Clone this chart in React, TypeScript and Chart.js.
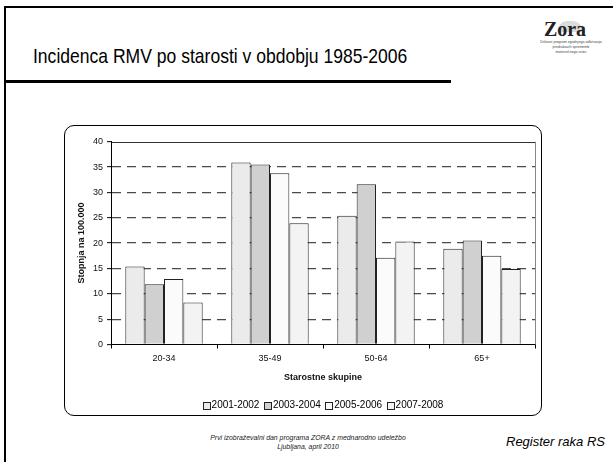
import React, { useEffect, useRef } from 'react';
import { Chart, registerables } from 'chart.js';

Chart.register(...registerables);

const categories = ['20-34', '35-49', '50-64', '65+'];
const seriesLabels = ['2001-2002', '2003-2004', '2005-2006', '2007-2008'];
const values2001 = [15.4, 35.9, 25.4, 18.9];
const values2003 = [11.9, 35.5, 31.6, 20.5];
const values2005 = [12.9, 33.8, 17.1, 17.5];
const values2007 = [8.3, 23.9, 20.3, 14.9];
const seriesColors = ['#EBEBEB', '#D0D0D0', '#FBFBFB', '#F3F3F3'];
const yMin = 0;
const yMax = 40;
const yStep = 5;

const slideTitle = 'Incidenca RMV po starosti v obdobju 1985-2006';
const xTitle = 'Starostne skupine';
const yTitle = 'Stopnja na 100.000';
const footerLine1 = 'Prvi izobraževalni dan programa ZORA z mednarodno udeležbo';
const footerLine2 = 'Ljubljana, april 2010';
const footerRight = 'Register raka RS';
const logoText = 'Zora';
const logoSub = ['Državni program zgodnjega odkrivanja', 'predrakavih sprememb', 'materničnega vratu'];

const FONT = "'Liberation Sans', Arial, sans-serif";

const framePlugin = {
  id: 'plotFrame',
  afterDraw(chart: any) {
    const { ctx, chartArea: a } = chart;
    ctx.save();
    ctx.setLineDash([]);
    ctx.lineWidth = 1;
    ctx.strokeStyle = '#333';
    const t = Math.round(a.top) + 0.5;
    ctx.beginPath();
    ctx.moveTo(a.left, t);
    ctx.lineTo(a.right, t);
    ctx.stroke();
    ctx.strokeStyle = '#888';
    const r = Math.round(a.right) + 0.5;
    ctx.beginPath();
    ctx.moveTo(r, a.top);
    ctx.lineTo(r, a.bottom);
    ctx.stroke();
    ctx.strokeStyle = '#000';
    const l = Math.round(a.left) + 0.5;
    ctx.beginPath();
    ctx.moveTo(l, a.top);
    ctx.lineTo(l, a.bottom);
    ctx.stroke();
    ctx.restore();
  },
};

const legendPlugin = {
  id: 'boxLegend',
  afterDraw(chart: any) {
    const { ctx, chartArea: a } = chart;
    const ds = chart.data.datasets;
    ctx.save();
    ctx.setLineDash([]);
    ctx.font = `10px ${FONT}`;
    const box = 7;
    const gapText = 2;
    const gapItem = 4.5;
    const widths = ds.map((d: any) => ctx.measureText(d.label).width);
    const total = widths.reduce((s: number, w: number) => s + box + gapText + w, 0) + gapItem * (ds.length - 1);
    let x = (a.left + a.right) / 2 - total / 2;
    const y = 280;
    ds.forEach((d: any, i: number) => {
      const bx = Math.round(x) + 0.5;
      const by = Math.round(y - box / 2) + 0.5;
      ctx.fillStyle = d.backgroundColor;
      ctx.fillRect(bx, by, box, box);
      ctx.strokeStyle = '#222';
      ctx.lineWidth = 1;
      ctx.strokeRect(bx, by, box, box);
      ctx.fillStyle = '#000';
      ctx.textBaseline = 'middle';
      ctx.textAlign = 'left';
      ctx.fillText(d.label, x + box + gapText, y + 0.5);
      x += box + gapText + widths[i] + gapItem;
    });
    ctx.restore();
  },
};

function BarChart() {
  const ref = useRef<HTMLCanvasElement | null>(null);
  useEffect(() => {
    if (!ref.current) return;
    const all = [values2001, values2003, values2005, values2007];
    const chart = new Chart(ref.current, {
      type: 'bar',
      data: {
        labels: categories,
        datasets: all.map((v, i) => ({
          label: seriesLabels[i],
          data: v,
          backgroundColor: seriesColors[i],
          borderColor: '#222',
          borderWidth: 1,
          categoryPercentage: 0.73,
          barPercentage: 1,
        })),
      },
      options: {
        responsive: false,
        animation: false,
        devicePixelRatio: 1,
        layout: { padding: { left: 0, right: 7, top: 16.7, bottom: 19 } },
        plugins: {
          tooltip: { enabled: false },
          legend: { display: false },
        },
        scales: {
          x: {
            afterFit: (s: any) => { s.height = 52.5; },
            grid: {
              offset: true,
              drawOnChartArea: false,
              tickLength: 4,
              tickColor: '#000',
            },
            border: { color: '#000', width: 1 },
            ticks: { color: '#111', font: { size: 9, family: FONT }, padding: 5 },
            title: {
              display: true,
              text: xTitle,
              color: '#111',
              font: { size: 9, weight: 'bold', family: FONT },
              padding: { top: 0, bottom: 13.9 },
            },
          },
          y: {
            min: yMin,
            max: yMax,
            afterFit: (s: any) => { s.width = 47; },
            ticks: { stepSize: yStep, color: '#111', font: { size: 9, family: FONT }, padding: 4 },
            grid: {
              color: (c: any) => (c.tick && (c.tick.value === yMin || c.tick.value === yMax) ? 'rgba(0,0,0,0)' : '#4a4a4a'),
              lineWidth: 1.3,
              tickBorderDash: [1, 0],
              tickLength: 4,
              tickColor: '#000',
              tickWidth: 1,
            },
            border: { color: '#000', width: 1, dash: [9, 6] },
            title: {
              display: true,
              text: yTitle,
              color: '#111',
              font: { size: 9, weight: 'bold', family: FONT },
              padding: { top: 12.6, bottom: 0 },
            },
          },
        },
      },
      plugins: [framePlugin, legendPlugin],
    } as any);
    return () => chart.destroy();
  }, []);
  return <canvas ref={ref} width={478} height={291} style={{ position: 'absolute', left: 64, top: 125, width: 478, height: 291 }} />;
}

export default function App() {
  return (
    <div style={{ position: 'fixed', left: 0, top: 0, width: 613, height: 462, background: '#fff', overflow: 'hidden', fontFamily: FONT }}>
      <div style={{ position: 'absolute', left: 4, top: 6, width: 609, height: 2, background: '#000' }} />
      <div style={{ position: 'absolute', left: 4, top: 6, width: 2, height: 456, background: '#000' }} />
      <div style={{ position: 'absolute', left: 4, top: 80, width: 447, height: 3, background: '#000' }} />
      <div style={{ position: 'absolute', left: 33, top: 45, fontSize: 21, lineHeight: 1, whiteSpace: 'nowrap', color: '#000', transform: 'scaleX(0.835)', transformOrigin: 'left top' }}>{slideTitle}</div>
      <div style={{ position: 'absolute', left: 557, top: 21, width: 26, height: 11, borderRadius: '13px 13px 0 0', background: '#dcdcdc' }} />
      <div style={{ position: 'absolute', left: 540, top: 19, width: 50, textAlign: 'center', fontFamily: "'Liberation Serif', serif", fontWeight: 'bold', fontSize: 20, lineHeight: 1, color: '#222' }}>{logoText}</div>
      {logoSub.map((s, i) => (
        <div key={i} style={{ position: 'absolute', left: 531, top: 41 + i * 5, width: 80, textAlign: 'center', fontSize: 3.6, lineHeight: 1, color: '#444', whiteSpace: 'nowrap' }}>{s}</div>
      ))}
      <div style={{ position: 'absolute', left: 64, top: 125, width: 478, height: 291, boxSizing: 'border-box', border: '1.5px solid #000', borderRadius: 10 }} />
      <BarChart />
      <div style={{ position: 'absolute', left: 158, top: 434, width: 300, textAlign: 'center', fontSize: 6.9, lineHeight: '8.5px', fontStyle: 'italic', color: '#222' }}>
        <div>{footerLine1}</div>
        <div>{footerLine2}</div>
      </div>
      <div style={{ position: 'absolute', left: 506, top: 435, fontSize: 13, lineHeight: 1, fontStyle: 'italic', color: '#000', whiteSpace: 'nowrap' }}>{footerRight}</div>
    </div>
  );
}
